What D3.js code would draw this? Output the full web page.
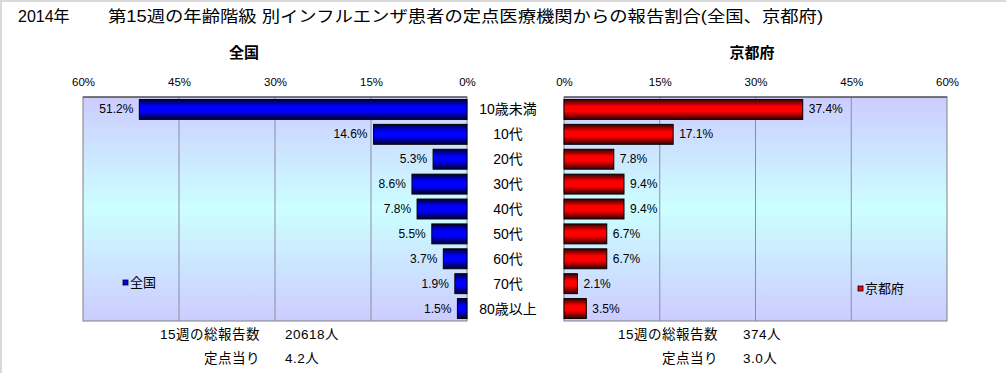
<!DOCTYPE html>
<html>
<head>
<meta charset="utf-8">
<script src="https://cdn.jsdelivr.net/npm/d3@7"></script>
<style>
body { margin: 0; background: #fff; }
svg { display: block; font-family: "Liberation Sans", "Noto Sans CJK JP", sans-serif; }
</style>
</head>
<body>
<div class="container"></div>
<script>
var categories = ['10歳未満', '10代', '20代', '30代', '40代', '50代', '60代', '70代', '80歳以上'];
var nationValues = [51.2, 14.6, 5.3, 8.6, 7.8, 5.5, 3.7, 1.9, 1.5];
var kyotoValues = [37.4, 17.1, 7.8, 9.4, 9.4, 6.7, 6.7, 2.1, 3.5];
var tickValues = [0, 15, 30, 45, 60];
var titleYear = '2014年';
var titleMain = '第15週の年齢階級 別インフルエンザ患者の定点医療機関からの報告割合(全国、京都府)';
var nationNotes = [['15週の総報告数', '20618人'], ['定点当り', '4.2人']];
var kyotoNotes = [['15週の総報告数', '374人'], ['定点当り', '3.0人']];

var W = 1006, H = 373;
var plotTop = 97, plotBottom = 321;

var svg = d3.select('.container').append('svg')
	.attr('width', W)
	.attr('height', H);

var defs = svg.append('defs');

var bg = defs.append('linearGradient').attr('id', 'bgGrad')
	.attr('x1', 0).attr('y1', 0).attr('x2', 0).attr('y2', 1);
bg.append('stop').attr('offset', '0%').attr('stop-color', '#ccccff');
bg.append('stop').attr('offset', '50%').attr('stop-color', '#ccffff');
bg.append('stop').attr('offset', '100%').attr('stop-color', '#ccccff');

function barGradient(id, dark, bright) {
	var g = defs.append('linearGradient').attr('id', id)
		.attr('x1', 0).attr('y1', 0).attr('x2', 0).attr('y2', 1);
	g.append('stop').attr('offset', '0%').attr('stop-color', dark);
	g.append('stop').attr('offset', '35%').attr('stop-color', bright);
	g.append('stop').attr('offset', '60%').attr('stop-color', bright);
	g.append('stop').attr('offset', '100%').attr('stop-color', dark);
}
barGradient('blueGrad', '#000033', '#0000ff');
barGradient('redGrad', '#330000', '#ff0000');

// outer frame (top & left)
svg.append('line').attr('x1', 0).attr('y1', 1).attr('x2', W).attr('y2', 1)
	.attr('stroke', '#d9d9d9').attr('stroke-width', 2);
svg.append('line').attr('x1', 1).attr('y1', 0).attr('x2', 1).attr('y2', H)
	.attr('stroke', '#d9d9d9').attr('stroke-width', 2);

svg.append('text')
	.attr('x', 18).attr('y', 22)
	.attr('font-size', 16)
	.text(titleYear);
svg.append('text')
	.attr('x', 108).attr('y', 22)
	.attr('font-size', 16)
	.attr('textLength', 715)
	.attr('lengthAdjust', 'spacingAndGlyphs')
	.text(titleMain);

var y = d3.scaleBand()
	.domain(categories)
	.range([plotTop, plotBottom])
	.paddingInner(0.2)
	.paddingOuter(0.1);

function panel(opts) {
	var x = d3.scaleLinear().domain([0, 60]).range(opts.range);
	var x0 = x(0), x60 = x(60);
	var left = Math.min(x0, x60), right = Math.max(x0, x60);
	var g = svg.append('g');

	g.append('rect')
		.attr('x', left).attr('y', plotTop)
		.attr('width', right - left).attr('height', plotBottom - plotTop)
		.attr('fill', 'url(#bgGrad)')
		.attr('stroke', '#808080');

	g.selectAll('.grid')
		.data(tickValues.slice(1, 4))
		.enter().append('line')
		.attr('x1', function(d) { return x(d); })
		.attr('x2', function(d) { return x(d); })
		.attr('y1', plotTop).attr('y2', plotBottom)
		.attr('stroke', '#8c8ca0');

	g.append('line')
		.attr('x1', left).attr('x2', right)
		.attr('y1', plotTop).attr('y2', plotTop)
		.attr('stroke', '#333');

	var axis = d3.axisTop(x)
		.tickValues(tickValues)
		.tickSize(0)
		.tickPadding(0)
		.tickFormat(function(d) { return d + '%'; });
	var ax = g.append('g')
		.attr('transform', 'translate(0,86)')
		.call(axis);
	ax.select('.domain').remove();
	ax.selectAll('text')
		.attr('font-size', 11.5)
		.attr('font-family', null)
		.attr('fill', '#000');

	g.append('text')
		.attr('x', opts.titleX).attr('y', 58)
		.attr('text-anchor', 'middle')
		.attr('font-size', 15)
		.attr('font-weight', 'bold')
		.text(opts.title);

	g.selectAll('.bar')
		.data(opts.values)
		.enter().append('rect')
		.attr('x', function(d) { return Math.min(x(0), x(d)); })
		.attr('y', function(d, i) { return y(categories[i]); })
		.attr('width', function(d) { return Math.abs(x(d) - x(0)); })
		.attr('height', y.bandwidth())
		.attr('fill', opts.fill)
		.attr('stroke', '#000');

	g.selectAll('.val')
		.data(opts.values)
		.enter().append('text')
		.attr('x', function(d) { return x(d) + opts.labelDir * 6; })
		.attr('y', function(d, i) { return y(categories[i]) + y.bandwidth() / 2 + 4; })
		.attr('text-anchor', opts.labelDir < 0 ? 'end' : 'start')
		.attr('font-size', 12)
		.text(function(d) { return d.toFixed(1) + '%'; });

	g.append('rect')
		.attr('x', opts.legendX).attr('y', opts.legendY - 4)
		.attr('width', 5).attr('height', 5)
		.attr('fill', opts.legendFill)
		.attr('stroke', '#000').attr('stroke-width', 0.8);
	g.append('text')
		.attr('x', opts.legendX + 7).attr('y', opts.legendY + 3)
		.attr('font-size', 13)
		.text(opts.title);

	opts.notes.forEach(function(n, i) {
		g.append('text')
			.attr('x', opts.noteX).attr('y', 339 + i * 24)
			.attr('text-anchor', 'end')
			.attr('font-size', 13.5)
			.attr('letter-spacing', 0.5)
			.text(n[0]);
		g.append('text')
			.attr('x', opts.noteX + 25).attr('y', 339 + i * 24)
			.attr('font-size', 13.5)
			.attr('letter-spacing', 0.5)
			.text(n[1]);
	});
}

panel({
	range: [467, 83],
	values: nationValues,
	fill: 'url(#blueGrad)',
	labelDir: -1,
	title: '全国',
	titleX: 244,
	legendX: 123,
	legendY: 284,
	legendFill: '#0000ff',
	notes: nationNotes,
	noteX: 260
});

panel({
	range: [564, 947],
	values: kyotoValues,
	fill: 'url(#redGrad)',
	labelDir: 1,
	title: '京都府',
	titleX: 752,
	legendX: 858,
	legendY: 290,
	legendFill: '#ff0000',
	notes: kyotoNotes,
	noteX: 718
});

svg.selectAll('.cat')
	.data(categories)
	.enter().append('text')
	.attr('x', 508)
	.attr('y', function(d) { return y(d) + y.bandwidth() / 2 + 5; })
	.attr('text-anchor', 'middle')
	.attr('font-size', 14)
	.text(function(d) { return d; });
</script>
</body>
</html>
